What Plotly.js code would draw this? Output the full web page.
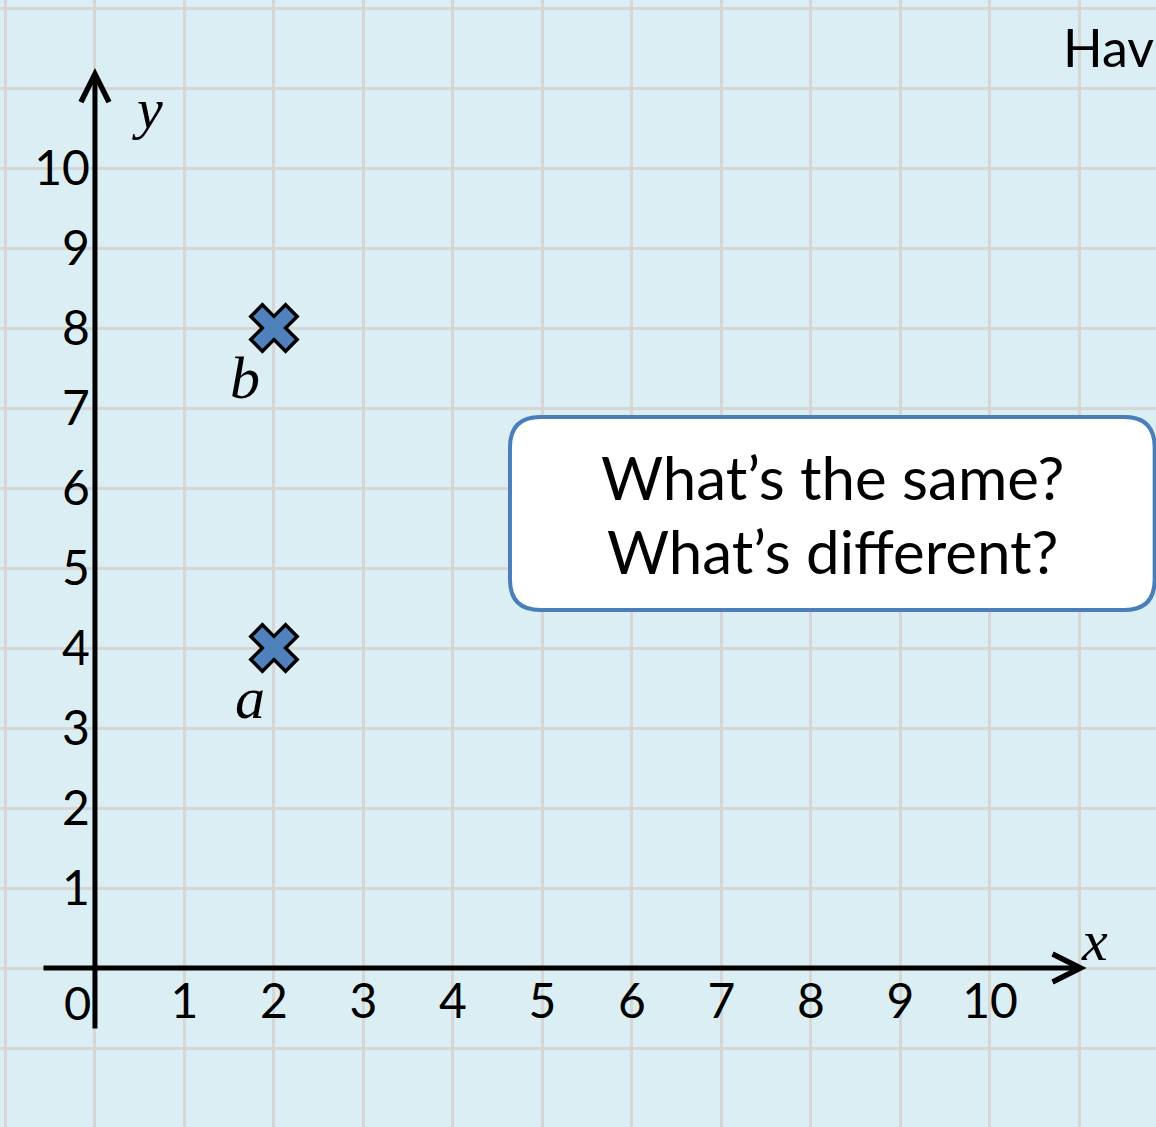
<!DOCTYPE html>
<html>
<head>
<meta charset="utf-8">
<script src="https://cdn.plot.ly/plotly-3.0.1.min.js"></script>
<style>html,body{margin:0;padding:0;overflow:hidden;background:#dbeef4;}</style>
</head>
<body>
<div id="chart" style="width:1156px;height:1127px;"></div>
<script>
// ---- data ----
const xTickVals = [1, 2, 3, 4, 5, 6, 7, 8, 9, 10];
const xTickText = ['1', '2', '3', '4', '5', '6', '7', '8', '9', '10'];
const yTickVals = [1, 2, 3, 4, 5, 6, 7, 8, 9, 10];
const yTickText = ['1', '2', '3', '4', '5', '6', '7', '8', '9', '10'];
const pointX = [2, 2];
const pointY = [4, 8];
const pointLabels = ['a', 'b'];
const calloutLines = ['What’s the same?', 'What’s different?'];
const cornerText = 'Hav';

// ---- layout constants ----
const xRange = [-1.061, 11.855];
const yRange = [-1.9875, 12.1];
const bg = '#dbeef4';
const gridColor = '#d6d6d6';
const sans = 'Lato, "Open Sans", sans-serif';
const serif = '"Liberation Serif", "DejaVu Serif", serif';

const traces = [
  {type: 'scatter', mode: 'markers', x: pointX, y: pointY,
   xaxis: 'x', yaxis: 'y', hoverinfo: 'skip',
   marker: {symbol: 'x', size: 41, color: '#4f81bd', line: {color: '#000', width: 3.5}}},
  // carrier trace so the overlay tick-label axes are drawn
  {type: 'scatter', mode: 'markers', x: [xTickVals[0]], y: [yTickVals[0]],
   xaxis: 'x2', yaxis: 'y2', hoverinfo: 'skip', marker: {opacity: 0, size: 1}}
];

// rounded callout box in data coordinates
const bx = {L: 4.637, R: 11.84, T: 6.8875, B: 4.475, rx: 0.34, ry: 0.38};
const boxPath = `M${bx.L + bx.rx},${bx.T} H${bx.R - bx.rx} Q${bx.R},${bx.T} ${bx.R},${bx.T - bx.ry} ` +
  `V${bx.B + bx.ry} Q${bx.R},${bx.B} ${bx.R - bx.rx},${bx.B} H${bx.L + bx.rx} ` +
  `Q${bx.L},${bx.B} ${bx.L},${bx.B + bx.ry} V${bx.T - bx.ry} Q${bx.L},${bx.T} ${bx.L + bx.rx},${bx.T} Z`;

const annotations = [
  // axes with arrowheads
  {x: 11.08, y: 0, ax: -0.592, ay: 0, xref: 'x', yref: 'y', axref: 'x', ayref: 'y',
   text: '', showarrow: true, arrowhead: 5, arrowsize: 1.1, arrowwidth: 5, arrowcolor: '#000', standoff: 0},
  {x: 0, y: 11.25, ax: 0, ay: -0.775, xref: 'x', yref: 'y', axref: 'x', ayref: 'y',
   text: '', showarrow: true, arrowhead: 5, arrowsize: 1.1, arrowwidth: 5, arrowcolor: '#000', standoff: 0},
  // axis names
  {x: 0.592, y: 10.75, xref: 'x', yref: 'y', text: '<i>y</i>', showarrow: false,
   font: {family: serif, size: 58, color: '#000'}},
  {x: 11.173, y: 0.35, xref: 'x', yref: 'y', text: '<i>x</i>', showarrow: false,
   font: {family: serif, size: 58, color: '#000'}},
  // origin label
  {x: 0, y: 0, xref: 'x', yref: 'y', text: '0', showarrow: false, xanchor: 'center',
   xshift: -17, yshift: -34, font: {family: sans, size: 47, color: '#000'}},
  // callout text
  {x: 8.246, y: 6.1375, xref: 'x', yref: 'y', text: calloutLines[0], showarrow: false,
   font: {family: sans, size: 60, color: '#000'}},
  {x: 8.246, y: 5.2125, xref: 'x', yref: 'y', text: calloutLines[1], showarrow: false,
   font: {family: sans, size: 60, color: '#000'}},
  // corner text
  {x: 10.79, y: 11.51, xref: 'x', yref: 'y', text: cornerText, showarrow: false, xanchor: 'left',
   font: {family: sans, size: 52, color: '#000'}}
];
pointLabels.forEach((t, i) => {
  annotations.push({x: pointX[i], y: pointY[i], xref: 'x', yref: 'y', text: '<i>' + t + '</i>',
    showarrow: false, xshift: i === 0 ? -24 : -29, yshift: -50,
    font: {family: serif, size: 60, color: '#000'}});
});

const layout = {
  width: 1156, height: 1127,
  margin: {l: 0, r: 0, t: 0, b: 0, pad: 0},
  paper_bgcolor: bg, plot_bgcolor: bg,
  showlegend: false,
  xaxis: {range: xRange, tick0: 0, dtick: 1, showgrid: true, gridcolor: gridColor, gridwidth: 3,
          zeroline: false, showticklabels: false, ticks: '', showline: false, fixedrange: true},
  yaxis: {range: yRange, tick0: 0, dtick: 1, showgrid: true, gridcolor: gridColor, gridwidth: 3,
          zeroline: false, showticklabels: false, ticks: '', showline: false, fixedrange: true},
  xaxis2: {range: xRange, overlaying: 'x', anchor: 'free', position: (0 - yRange[0]) / (yRange[1] - yRange[0]),
           tickmode: 'array', tickvals: xTickVals, ticktext: xTickText, showgrid: false, zeroline: false,
           showline: false, ticks: '', ticklabelstandoff: 1, side: 'bottom',
           tickfont: {family: sans, size: 48, color: '#000'}, fixedrange: true},
  yaxis2: {range: yRange, overlaying: 'y', anchor: 'free', position: (0 - xRange[0]) / (xRange[1] - xRange[0]),
           tickmode: 'array', tickvals: yTickVals, ticktext: yTickText, showgrid: false, zeroline: false,
           showline: false, ticks: '', ticklabelstandoff: 5, side: 'left',
           tickfont: {family: sans, size: 48, color: '#000'}, fixedrange: true},
  shapes: [{type: 'path', xref: 'x', yref: 'y', path: boxPath, fillcolor: '#ffffff',
            line: {color: '#4a7ebb', width: 4}, layer: 'above'}],
  annotations: annotations
};

Plotly.newPlot('chart', traces, layout, {displayModeBar: false, staticPlot: true});
</script>
</body>
</html>
